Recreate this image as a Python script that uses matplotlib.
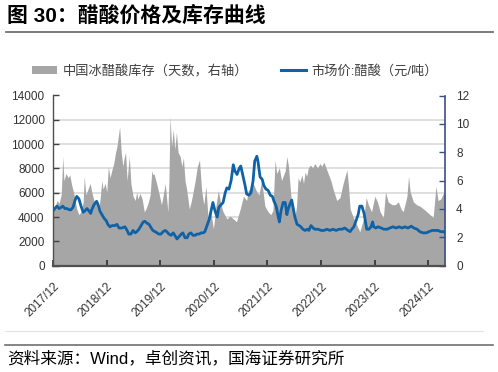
import matplotlib
matplotlib.use('agg')
import matplotlib.pyplot as plt
from matplotlib.patches import Patch
from matplotlib.lines import Line2D
import numpy as np

plt.rcParams['font.family'] = ['Liberation Sans', 'Noto Sans CJK SC']

# inventory of glacial acetic acid, days (right axis); time in decimal years
inv_t = [2017.92, 2017.95, 2017.99, 2018.03, 2018.07, 2018.10, 2018.12, 2018.16, 2018.20, 2018.23,
         2018.27, 2018.30, 2018.33, 2018.36, 2018.40, 2018.44, 2018.48, 2018.50, 2018.53, 2018.57,
         2018.61, 2018.64, 2018.68, 2018.72, 2018.76, 2018.79, 2018.83, 2018.85, 2018.89, 2018.92,
         2018.95, 2018.98, 2019.02, 2019.05, 2019.08, 2019.11, 2019.16, 2019.19, 2019.22, 2019.24,
         2019.27, 2019.30, 2019.34, 2019.37, 2019.41, 2019.45, 2019.48, 2019.50, 2019.54, 2019.58,
         2019.62, 2019.65, 2019.69, 2019.73, 2019.76, 2019.78, 2019.80, 2019.85, 2019.90, 2019.94,
         2019.97, 2020.01, 2020.06, 2020.08, 2020.10, 2020.13, 2020.16, 2020.19, 2020.22, 2020.25,
         2020.29, 2020.32, 2020.35, 2020.38, 2020.41, 2020.46, 2020.50, 2020.53, 2020.57, 2020.61,
         2020.65, 2020.69, 2020.73, 2020.77, 2020.81, 2020.86, 2020.91, 2020.96, 2021.00, 2021.05,
         2021.09, 2021.16, 2021.22, 2021.28, 2021.34, 2021.41, 2021.47, 2021.53, 2021.56, 2021.59,
         2021.65, 2021.72, 2021.76, 2021.81, 2021.87, 2021.93, 2021.98, 2022.02, 2022.06, 2022.09,
         2022.14, 2022.18, 2022.25, 2022.28, 2022.31, 2022.34, 2022.37, 2022.40, 2022.43, 2022.46,
         2022.49, 2022.52, 2022.56, 2022.59, 2022.62, 2022.65, 2022.68, 2022.72, 2022.76, 2022.80,
         2022.85, 2022.90, 2022.93, 2022.97, 2023.01, 2023.05, 2023.10, 2023.15, 2023.21, 2023.27,
         2023.33, 2023.40, 2023.43, 2023.46, 2023.52, 2023.58, 2023.64, 2023.71, 2023.76, 2023.80,
         2023.86, 2023.92, 2023.97, 2024.02, 2024.08, 2024.12, 2024.17, 2024.24, 2024.30, 2024.36,
         2024.41, 2024.45, 2024.52, 2024.55, 2024.58, 2024.64, 2024.70, 2024.76, 2024.83, 2024.89,
         2024.95, 2025.01, 2025.06, 2025.10, 2025.15, 2025.20, 2025.23]
inv_days = [3.7, 4.0, 4.6, 4.4, 5.0, 7.7, 6.0, 6.5, 6.2, 6.4,
            5.6, 5.2, 4.6, 4.0, 3.6, 3.8, 4.5, 6.3, 5.0, 5.4,
            5.8, 5.2, 4.6, 4.4, 3.8, 4.5, 6.0, 5.4, 5.8, 5.2,
            7.0, 6.2, 6.8, 7.2, 7.9, 8.4, 9.8, 8.0, 7.0, 7.5,
            8.0, 6.0, 7.7, 5.8, 4.9, 4.6, 5.2, 4.7, 5.1, 4.7,
            3.8, 4.0, 4.4, 5.0, 6.7, 6.4, 6.5, 5.8, 5.0, 4.3,
            4.9, 5.8, 3.8, 6.0, 10.5, 8.4, 9.6, 8.2, 9.4, 8.0,
            7.7, 7.0, 7.6, 6.0, 5.4, 4.0, 4.6, 5.2, 6.0, 7.0,
            7.45, 5.3, 4.3, 5.6, 3.3, 3.8, 2.6, 4.3, 5.3, 4.3,
            3.8, 3.3, 3.5, 3.3, 3.1, 4.0, 4.9, 4.6, 5.3, 5.4,
            5.8, 5.2, 5.0, 6.0, 4.2, 3.8, 3.6, 3.9, 7.45, 6.5,
            6.9, 6.0, 6.7, 7.7, 7.0, 5.6, 4.3, 3.8, 3.4, 4.2,
            6.2, 5.9, 6.4, 5.8, 6.6, 6.3, 6.9, 7.1, 6.9, 7.2,
            6.9, 7.2, 7.0, 7.3, 6.9, 6.5, 6.0, 5.3, 4.6, 4.8,
            5.8, 6.75, 5.6, 4.0, 3.4, 2.9, 2.4, 3.3, 4.8, 4.3,
            3.8, 4.9, 4.5, 3.8, 3.4, 5.2, 4.5, 4.3, 4.3, 4.5,
            4.0, 3.8, 4.9, 6.3, 5.2, 4.5, 4.3, 4.2, 4.0, 3.8,
            3.6, 3.4, 5.6, 4.6, 4.7, 5.1, 5.0]

# market price of acetic acid, yuan/ton (left axis)
price_t = [2017.92, 2017.95, 2017.99, 2018.03, 2018.07, 2018.10, 2018.14, 2018.18, 2018.22, 2018.25,
           2018.29, 2018.33, 2018.36, 2018.40, 2018.44, 2018.48, 2018.51, 2018.55, 2018.59, 2018.62,
           2018.64, 2018.68, 2018.73, 2018.76, 2018.79, 2018.83, 2018.87, 2018.91, 2018.94, 2018.98,
           2019.02, 2019.07, 2019.11, 2019.15, 2019.20, 2019.26, 2019.30, 2019.33, 2019.37, 2019.41,
           2019.45, 2019.48, 2019.52, 2019.56, 2019.60, 2019.63, 2019.67, 2019.71, 2019.75, 2019.78,
           2019.82, 2019.86, 2019.89, 2019.93, 2019.97, 2020.01, 2020.04, 2020.08, 2020.12, 2020.16,
           2020.19, 2020.23, 2020.27, 2020.31, 2020.34, 2020.38, 2020.42, 2020.45, 2020.49, 2020.53,
           2020.57, 2020.60, 2020.64, 2020.68, 2020.72, 2020.75, 2020.79, 2020.83, 2020.87, 2020.90,
           2020.94, 2020.98, 2021.01, 2021.05, 2021.09, 2021.13, 2021.16, 2021.20, 2021.24, 2021.28,
           2021.31, 2021.35, 2021.39, 2021.42, 2021.46, 2021.50, 2021.53, 2021.57, 2021.61, 2021.65,
           2021.68, 2021.72, 2021.74, 2021.78, 2021.82, 2021.85, 2021.89, 2021.93, 2021.97, 2022.01,
           2022.04, 2022.08, 2022.12, 2022.14, 2022.17, 2022.21, 2022.25, 2022.28, 2022.30, 2022.34,
           2022.37, 2022.40, 2022.43, 2022.47, 2022.51, 2022.54, 2022.58, 2022.62, 2022.66, 2022.69,
           2022.73, 2022.77, 2022.80, 2022.86, 2022.92, 2022.97, 2023.03, 2023.08, 2023.14, 2023.20,
           2023.25, 2023.31, 2023.36, 2023.42, 2023.46, 2023.49, 2023.53, 2023.57, 2023.61, 2023.64,
           2023.68, 2023.72, 2023.75, 2023.77, 2023.81, 2023.85, 2023.88, 2023.90, 2023.94, 2023.98,
           2024.04, 2024.09, 2024.15, 2024.20, 2024.26, 2024.32, 2024.37, 2024.43, 2024.48, 2024.54,
           2024.60, 2024.65, 2024.71, 2024.76, 2024.82, 2024.88, 2024.93, 2024.99, 2025.04, 2025.10,
           2025.15, 2025.21, 2025.23]
price_val = [4500, 4700, 4900, 4700, 4800, 4900, 4700, 4700, 4600, 4600,
             4800, 5400, 5700, 5500, 4900, 4400, 4500, 4700, 4500, 4300,
             4600, 5000, 5300, 5000, 4500, 4200, 3900, 3700, 3400, 3200,
             3300, 3300, 3400, 3100, 3100, 3200, 2900, 2600, 2600, 2900,
             2700, 2800, 3000, 3300, 3600, 3650, 3500, 3400, 3100, 2900,
             2800, 2700, 2600, 2600, 2800, 2900, 2800, 2600, 2500, 2700,
             2500, 2200, 2400, 2600, 2700, 2300, 2300, 2600, 2700, 2500,
             2500, 2600, 2600, 2700, 2700, 2800, 3300, 3800, 4600, 5200,
             4500, 4000, 4800, 5000, 5200, 6000, 6400, 6300, 7000, 8300,
             7800, 7500, 8000, 8200, 7400, 6600, 5900, 5800, 6000, 7000,
             8600, 9000, 8600, 7300, 7100, 6600, 6300, 6200, 5800, 5700,
             5300, 4900, 4000, 3600, 4500, 5200, 5200, 4200, 4600, 5100,
             5400, 4700, 4000, 3400, 3300, 3200, 3000, 2900, 3000, 2900,
             3300, 3100, 3000, 3000, 2900, 2900, 3000, 2900, 3000, 2900,
             3000, 3000, 3100, 2900, 2800, 3000, 3200, 3700, 4200, 4900,
             4900, 4300, 3500, 3000, 3000, 3200, 3600, 3200, 3100, 3200,
             3100, 3000, 3000, 3100, 3200, 3100, 3200, 3100, 3200, 3100,
             3250, 3100, 3000, 2800, 2700, 2700, 2800, 2900, 2900, 2900,
             2800, 2800, 2700]

tick_pos = [2017.917, 2018.917, 2019.917, 2020.917, 2021.917, 2022.917, 2023.917, 2024.917]
tick_lab = ['2017/12', '2018/12', '2019/12', '2020/12', '2021/12', '2022/12', '2023/12', '2024/12']

gray = '#A6A6A6'
blue = '#0F62A6'
navy = '#3C5088'
txt = '#333333'

fig = plt.figure(figsize=(4.98, 3.72), dpi=100)
rect = [53 / 498, 1 - 265.7 / 372, 392 / 498, 170.2 / 372]
xlim = (2017.917, 2025.23)

# background grid
ax_bg = fig.add_axes(rect, zorder=0)
ax_bg.set_xlim(*xlim)
ax_bg.set_ylim(0, 14000)
ax_bg.set_yticks(np.arange(0, 14001, 2000))
ax_bg.yaxis.grid(True, color='#D9D9D9', linewidth=1.2)
ax_bg.tick_params(left=False, bottom=False, labelleft=False, labelbottom=False)
for s in ax_bg.spines.values():
    s.set_visible(False)

# inventory area, right axis
ax2 = fig.add_axes(rect, zorder=1)
ax2.patch.set_visible(False)
ax2.fill_between(inv_t, inv_days, 0, color=gray, linewidth=0)
ax2.set_xlim(*xlim)
ax2.set_ylim(0, 12)
ax2.set_yticks(np.arange(0, 13, 2))
ax2.yaxis.tick_right()
ax2.tick_params(axis='y', direction='in', length=4, width=1, color=navy,
                labelsize=8.5, labelcolor=txt, pad=8)
ax2.tick_params(bottom=False, labelbottom=False)
for k in ['top', 'left', 'bottom']:
    ax2.spines[k].set_visible(False)
ax2.spines['right'].set_color(navy)
ax2.spines['right'].set_linewidth(1.2)

# price line, left axis
ax = fig.add_axes(rect, zorder=2)
ax.patch.set_visible(False)
ax.plot(price_t, price_val, color=blue, linewidth=2.0, solid_joinstyle='round')
ax.set_xlim(*xlim)
ax.set_ylim(0, 14000)
ax.set_yticks(np.arange(0, 14001, 2000))
ax.set_xticks(tick_pos)
ax.set_xticklabels(tick_lab, rotation=45, ha='right', va='top', rotation_mode='anchor')
ax.tick_params(axis='y', direction='in', length=4, width=1, color='#404040',
               labelsize=8.5, labelcolor=txt, pad=6)
ax.tick_params(axis='x', direction='in', length=4, width=1.2, color='#303030',
               labelsize=8.5, labelcolor=txt, pad=10.5)
ax.spines['top'].set_visible(False)
ax.spines['right'].set_visible(False)
ax.spines['left'].set_color('#505050')
ax.spines['left'].set_linewidth(1.0)
ax.spines['bottom'].set_color('#505050')
ax.spines['bottom'].set_linewidth(1.6)

# legend
handles = [Patch(facecolor=gray, edgecolor='none'), Line2D([], [], color=blue, linewidth=2.2)]
labels = ['中国冰醋酸库存（天数，右轴）', '市场价:醋酸（元/吨）']
fig.legend(handles, labels, loc='center left', bbox_to_anchor=(32 / 498, 1 - 71 / 372),
           ncol=2, frameon=False, fontsize=9.5, borderpad=0, borderaxespad=0,
           handlelength=1.9, handleheight=0.6, handletextpad=0.4, columnspacing=2.5,
           labelcolor='#404040')

# title, rules and source
fig.text(7 / 498, 1 - 16 / 372, '图 30：醋酸价格及库存曲线', fontsize=15, fontweight='bold',
         ha='left', va='center', color='black')
fig.add_artist(Line2D([6 / 498, 493 / 498], [1 - 32 / 372] * 2, color='#707070', linewidth=1.3))
fig.add_artist(Line2D([5 / 498, 483 / 498], [1 - 331 / 372] * 2, color='#E3E3E3', linewidth=0.8))
fig.add_artist(Line2D([5 / 498, 493 / 498], [1 - 345 / 372] * 2, color='#707070', linewidth=1.2))
fig.text(7 / 498, 1 - 358 / 372, '资料来源：Wind，卓创资讯，国海证券研究所', fontsize=12,
         ha='left', va='center', color='black')

fig.savefig('out.png', dpi=100)
